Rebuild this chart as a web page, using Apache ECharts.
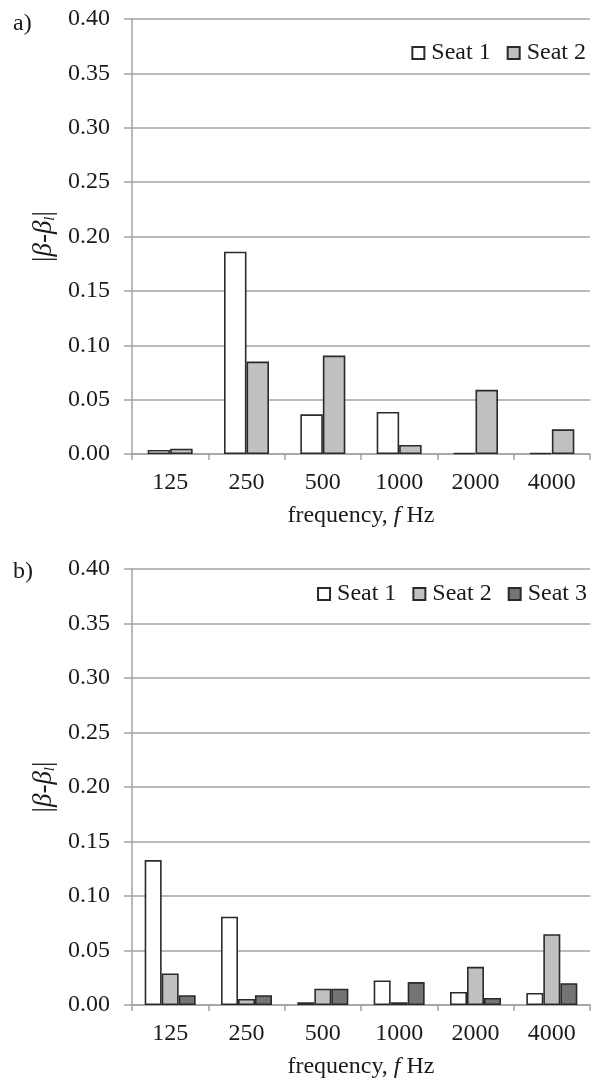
<!DOCTYPE html>
<html>
<head>
<meta charset="utf-8">
<script src="https://cdn.jsdelivr.net/npm/echarts@6/dist/echarts.min.js"></script>
<style>
html,body{margin:0;padding:0;background:#fff;}
#c{width:591px;height:1081px;}
</style>
</head>
<body>
<div id="c"></div>
<script>
const categories = ['125', '250', '500', '1000', '2000', '4000'];
const aSeat1 = [0.0037, 0.186, 0.0365, 0.0387, 0.001, 0.001];
const aSeat2 = [0.0049, 0.085, 0.0905, 0.0083, 0.059, 0.0227];
const bSeat1 = [0.133, 0.081, 0.0025, 0.0225, 0.012, 0.011];
const bSeat2 = [0.029, 0.0055, 0.015, 0.0025, 0.035, 0.065];
const bSeat3 = [0.009, 0.009, 0.015, 0.021, 0.0065, 0.020];
const yTicks = { min: 0, max: 0.4, interval: 0.05 };

const FONT = '"Liberation Serif", "Times New Roman", serif';
const FS = 24;
const GRIDC = '#a3a3a3';
const BORDER = '#2a2a2a';
const TXT = '#1a1a1a';
const C1 = '#ffffff', C2 = '#c0c0c0', C3 = '#747474';

function xAxis(gi) {
  return {
    type: 'category', gridIndex: gi, data: categories,
    axisLine: { lineStyle: { color: GRIDC, width: 1.5 } },
    axisTick: { show: true, length: 6, lineStyle: { color: GRIDC, width: 1.5 } },
    axisLabel: { color: TXT, fontFamily: FONT, fontSize: FS, margin: 17 },
    name: '{n|frequency, }{i|f}{n| Hz}',
    nameLocation: 'middle', nameGap: 50,
    nameTextStyle: {
      rich: {
        n: { fontFamily: FONT, fontSize: FS, color: TXT },
        i: { fontFamily: FONT, fontSize: FS, fontStyle: 'italic', color: TXT }
      }
    }
  };
}
function yAxis(gi) {
  return {
    type: 'value', gridIndex: gi, min: yTicks.min, max: yTicks.max, interval: yTicks.interval,
    axisLine: { show: true, lineStyle: { color: GRIDC, width: 1.5 } },
    axisTick: { show: true, length: 8, lineStyle: { color: GRIDC, width: 1.5 } },
    splitLine: { lineStyle: { color: GRIDC, width: 1.5 } },
    axisLabel: { color: TXT, fontFamily: FONT, fontSize: FS, margin: 22,
      formatter: v => v.toFixed(2) },
    name: '{n||}{i|β-β}{s|l}{n||}',
    nameLocation: 'middle', nameGap: 58, nameRotate: 90,
    nameTextStyle: {
      rich: {
        n: { fontFamily: FONT, fontSize: 27, color: TXT },
        i: { fontFamily: FONT, fontSize: 27, fontStyle: 'italic', color: TXT },
        s: { fontFamily: FONT, fontSize: 15, fontStyle: 'italic', color: TXT, verticalAlign: 'bottom', padding: [10, 0, 0, 0] }
      }
    }
  };
}
function bar(name, data, color, gi, w) {
  return {
    type: 'bar', name: name, data: data, xAxisIndex: gi, yAxisIndex: gi,
    barWidth: w, barGap: '0%',
    itemStyle: { color: color, borderColor: BORDER, borderWidth: 1.6 },
    emphasis: { disabled: true }
  };
}
const legendStyle = {
  itemWidth: 12, itemHeight: 12, itemGap: 16, icon: 'rect',
  textStyle: { fontFamily: FONT, fontSize: FS, color: TXT, padding: [0, 0, 0, 2] }
};

const chart = echarts.init(document.getElementById('c'));
chart.setOption({
  animation: false,
  backgroundColor: '#fff',
  title: [
    { text: 'a)', left: 8, top: 7, textStyle: { fontFamily: FONT, fontSize: FS, fontWeight: 'normal', color: TXT } },
    { text: 'b)', left: 8, top: 555, textStyle: { fontFamily: FONT, fontSize: FS, fontWeight: 'normal', color: TXT } }
  ],
  legend: [
    Object.assign({ data: ['Seat 1', 'Seat 2'], right: 5, top: 41, padding: 0 }, legendStyle),
    Object.assign({ data: ['Seat 1', 'Seat 2', 'Seat 3'], right: 4, top: 582, padding: 0 }, legendStyle)
  ],
  grid: [
    { left: 132, right: 1, top: 19, height: 435 },
    { left: 132, right: 1, top: 569, height: 436 }
  ],
  xAxis: [xAxis(0), xAxis(1)],
  yAxis: [yAxis(0), yAxis(1)],
  series: [
    bar('Seat 1', aSeat1, C1, 0, 22.5),
    bar('Seat 2', aSeat2, C2, 0, 22.5),
    bar('Seat 1', bSeat1, C1, 1, 17),
    bar('Seat 2', bSeat2, C2, 1, 17),
    bar('Seat 3', bSeat3, C3, 1, 17)
  ]
});
</script>
</body>
</html>
